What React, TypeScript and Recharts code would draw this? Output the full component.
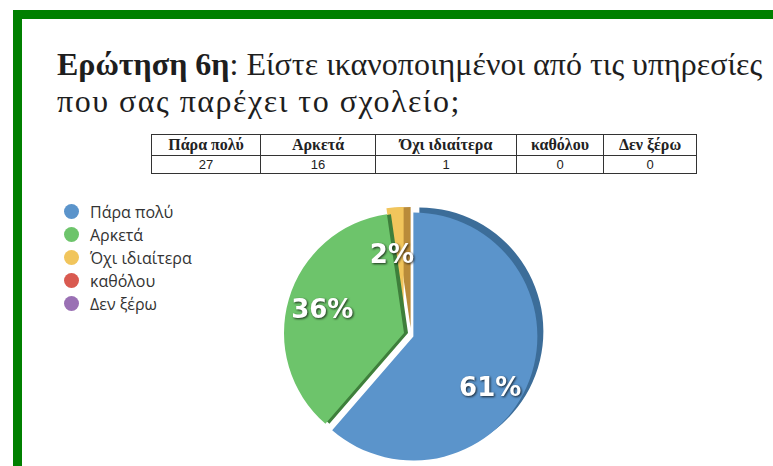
import React from "react";
import { Pie, PieChart, Cell } from "recharts";

const categories = ["Πάρα πολύ", "Αρκετά", "Όχι ιδιαίτερα", "καθόλου", "Δεν ξέρω"];
const counts = [27, 16, 1, 0, 0];
const colors = ["#5b94cb", "#6dc46b", "#f1c55c", "#d95a50", "#9a70b4"];
const sideColors = ["#3c6d99", "#3e7f3b", "#b98b3a", "#a33d36", "#6c4b85"];

// look of the 3d-ish pie
const explode = [10, 0, 5, 0, 0];
const radii = [124, 120, 121, 120, 120];
const sideShift = [[6, -5], [4, 0], [7, 0], [0, 0], [0, 0]];
const labelRadius = [0.73, 0.71, 0.66, 0.7, 0.7];
const labelNudge = [[-8, 19], [0, 0], [-6, 6], [0, 0], [0, 0]];
const drawOrder = ["side0", "side2", "face2", "side1", "face1", "face0"];
const colWidths = [108, 114, 140, 86, 92];

const W = 773;
const H = 466;
const CX = 404;
const CY = 333;

const rows = categories.map((name, i) => ({ name, value: counts[i] }));
const total = counts.reduce((a, b) => a + b, 0);

const RAD = Math.PI / 180;

function midAngle(i: number) {
  const before = counts.slice(0, i).reduce((a, b) => a + b, 0);
  return 90 - (360 * (before + counts[i] / 2)) / total;
}

function center(i: number) {
  const a = midAngle(i) * RAD;
  return { x: CX + explode[i] * Math.cos(a), y: CY - explode[i] * Math.sin(a) };
}

function LegendList() {
  return (
    <div style={{ position: "absolute", left: 64, top: 200 }}>
      {categories.map((c, i) => (
        <div
          key={c}
          style={{ display: "flex", alignItems: "center", height: 23, fontFamily: "'Open Sans', sans-serif", fontSize: 16, color: "#333" }}
        >
          <span style={{ width: 15, height: 15, borderRadius: "50%", background: colors[i], marginRight: 11, display: "inline-block" }} />
          {c}
        </div>
      ))}
    </div>
  );
}

function renderSlice(key: string) {
  const i = Number(key.slice(4));
  if (!counts[i]) return null;
  const side = key.startsWith("side");
  const c = center(i);
  const dx = side ? sideShift[i][0] : 0;
  const dy = side ? sideShift[i][1] : 0;
  return (
    <Pie
      key={key}
      data={rows}
      dataKey="value"
      nameKey="name"
      cx={c.x + dx}
      cy={c.y + dy}
      outerRadius={radii[i]}
      startAngle={90}
      endAngle={-270}
      stroke="none"
      labelLine={false}
      legendType="none"
      isAnimationActive={false}
      label={
        side
          ? false
          : (p: any) => {
              if (p.index !== i) return null;
              const a = p.midAngle * RAD;
              const r = radii[i] * labelRadius[i];
              const x = p.cx + r * Math.cos(a) + labelNudge[i][0];
              const y = p.cy - r * Math.sin(a) + labelNudge[i][1];
              return (
                <text
                  x={x}
                  y={y}
                  textAnchor="middle"
                  dominantBaseline="central"
                  fill="#fff"
                  fontFamily="'DejaVu Sans', sans-serif"
                  fontWeight="bold"
                  fontSize={26}
                  style={{ filter: "drop-shadow(1px 1px 1px rgba(0,0,0,0.75))" }}
                >
                  {`${Math.round(p.percent * 100)}%`}
                </text>
              );
            }
      }
    >
      {rows.map((r, j) => (
        <Cell key={r.name} fill={j === i ? (side ? sideColors[i] : colors[i]) : "transparent"} />
      ))}
    </Pie>
  );
}

const cell: React.CSSProperties = {
  border: "1px solid #333",
  padding: 0,
  textAlign: "center",
};

export default function App() {
  return (
    <div style={{ position: "absolute", left: 0, top: 0, width: W, height: H, background: "#fff", overflow: "hidden" }}>
      <div style={{ position: "absolute", left: 13, top: 10, width: W, height: H, borderLeft: "9px solid #008000", borderTop: "9px solid #008000" }} />
      <div
        style={{ position: "absolute", left: 57, top: 46, fontFamily: "'Liberation Serif', serif", fontSize: 32, lineHeight: "37px", color: "#1e1e1e", whiteSpace: "nowrap" }}
      >
        <div>
          <b>Ερώτηση 6η</b>: Είστε ικανοποιημένοι από τις υπηρεσίες
        </div>
        <div style={{ letterSpacing: 1.5 }}>που σας παρέχει το σχολείο;</div>
      </div>
      <table
        style={{ position: "absolute", left: 151, top: 134, borderCollapse: "collapse", width: 540, color: "#222", tableLayout: "fixed" }}
      >
        <tbody>
          <tr style={{ height: 21, fontFamily: "'Liberation Serif', serif", fontWeight: "bold", fontSize: 16 }}>
            {categories.map((c, i) => (
              <td key={c} style={{ ...cell, width: colWidths[i] }}>
                {c}
              </td>
            ))}
          </tr>
          <tr style={{ height: 18, fontFamily: "'Liberation Sans', sans-serif", fontSize: 13 }}>
            {counts.map((v, i) => (
              <td key={i} style={cell}>
                {v}
              </td>
            ))}
          </tr>
        </tbody>
      </table>
      <div style={{ position: "absolute", left: 0, top: 0 }}>
        <PieChart width={W} height={H} margin={{ top: 0, right: 0, bottom: 0, left: 0 }}>
          {drawOrder.map((k) => renderSlice(k))}
        </PieChart>
      </div>
      <LegendList />
    </div>
  );
}
